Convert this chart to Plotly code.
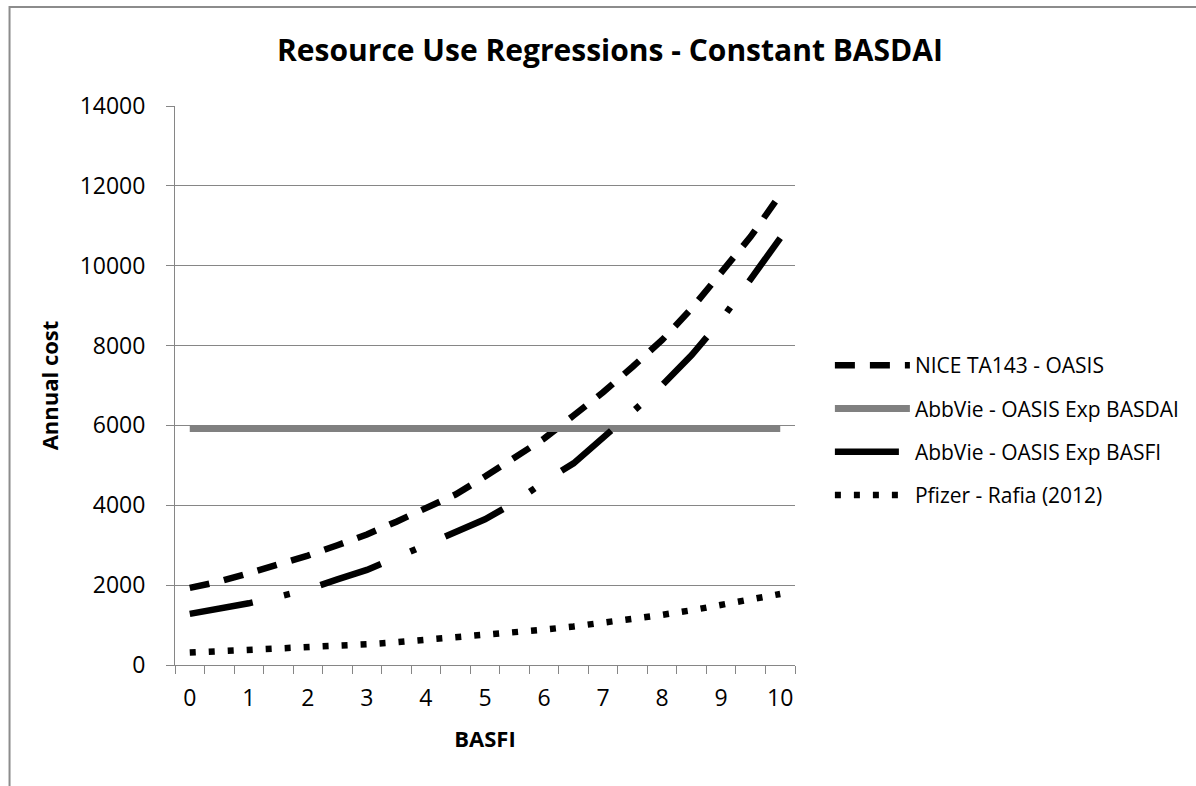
import plotly.graph_objects as go

# ---- data ----
basfi = [0, 0.5, 1, 1.5, 2, 2.5, 3, 3.5, 4, 4.5, 5, 5.5, 6, 6.5, 7, 7.5, 8, 8.5, 9, 9.5, 10]
tick_labels = ["0", "1", "2", "3", "4", "5", "6", "7", "8", "9", "10"]
tick_positions = [0, 1, 2, 3, 4, 5, 6, 7, 8, 9, 10]

nice_ta143 = [1930, 2090, 2300, 2510, 2740, 3000, 3270, 3590, 3930, 4270, 4720,
              5190, 5670, 6250, 6830, 7470, 8140, 8930, 9800, 10730, 11780]
abbvie_basdai = [5920, 5920, 5920, 5920, 5920, 5920, 5920, 5920, 5920, 5920, 5920,
                 5920, 5920, 5920, 5920, 5920, 5920, 5920, 5920, 5920, 5920]
abbvie_basfi = [1280, 1400, 1545, 1710, 1890, 2145, 2380, 2690, 3000, 3300, 3650,
                4070, 4590, 5050, 5680, 6340, 7010, 7760, 8640, 9640, 10690]
pfizer_rafia = [310, 340, 370, 400, 440, 480, 520, 570, 625, 680, 745,
                810, 885, 965, 1055, 1150, 1255, 1370, 1495, 1630, 1780]

series_names = ["NICE TA143 - OASIS", "AbbVie - OASIS Exp BASDAI",
                "AbbVie - OASIS Exp BASFI", "Pfizer - Rafia (2012)"]

FONT = "Open Sans"
GRID = "#868686"

fig = go.Figure()
fig.add_trace(go.Scatter(x=basfi, y=nice_ta143, mode="lines", name=series_names[0],
                         legendgroup="a",
                         line=dict(color="black", width=6.5, dash="20px,15px")))
fig.add_trace(go.Scatter(x=basfi, y=abbvie_basdai, mode="lines", name=series_names[1],
                         legendgroup="b",
                         line=dict(color="#808080", width=7)))
fig.add_trace(go.Scatter(x=basfi, y=abbvie_basfi, mode="lines", name=series_names[2],
                         legendgroup="c",
                         line=dict(color="black", width=6.5, dash="64px,32px,6px,32px")))
fig.add_trace(go.Scatter(x=basfi, y=pfizer_rafia, mode="lines", name=series_names[3],
                         legendgroup="d",
                         line=dict(color="black", width=6.5, dash="6px,13px")))

L, R, T, B = 175, 797, 106, 665
W, H = 1196, 786
pw, ph = R - L, B - T

def px_x(x):
    return (x - L) / pw

def px_y(y):
    return (B - y) / ph

fig.update_layout(
    width=W, height=H,
    margin=dict(l=L, r=W - R, t=T, b=H - B, pad=0),
    paper_bgcolor="white", plot_bgcolor="white",
    font=dict(family=FONT, color="black"),
    title=dict(text="<b>Resource Use Regressions - Constant BASDAI</b>",
               font=dict(family=FONT, size=30, color="black"),
               x=610 / W, xref="container", xanchor="center",
               y=1 - 50 / H, yref="container", yanchor="middle"),
    showlegend=True,
    legend=dict(x=px_x(832), xanchor="left", y=px_y(345), yanchor="top",
                font=dict(family=FONT, size=21, color="black"),
                itemwidth=75, tracegroupgap=13, bgcolor="rgba(0,0,0,0)",
                traceorder="grouped"),
    xaxis=dict(range=[-0.25, 10.25], tickmode="array", tickvals=tick_positions,
               ticktext=tick_labels, ticks="outside", ticklen=12,
               tickcolor="rgba(0,0,0,0)", showgrid=False, zeroline=False,
               showline=True, linecolor=GRID, linewidth=1,
               tickfont=dict(family=FONT, size=23, color="black"),
               minor=dict(tickmode="array",
                          tickvals=[-0.25 + 0.5 * i for i in range(22)],
                          ticks="outside", ticklen=8, tickcolor=GRID, tickwidth=1,
                          showgrid=False),
               title=dict(text="<b>BASFI</b>", font=dict(family=FONT, size=22, color="black"),
                          standoff=20)),
    yaxis=dict(range=[0, 14000], tickmode="linear", tick0=0, dtick=2000,
               tickformat="d",
               ticks="outside", ticklen=8, tickcolor=GRID, tickwidth=1,
               showgrid=True, gridcolor=GRID, gridwidth=1, zeroline=False,
               showline=True, linecolor=GRID, linewidth=1,
               tickfont=dict(family=FONT, size=23, color="black"),
               ticklabelstandoff=16,
               title=dict(text="<b>Annual cost</b>", font=dict(family=FONT, size=22, color="black"),
                          standoff=14)),
    shapes=[dict(type="rect", xref="paper", yref="paper",
                 x0=px_x(9), x1=px_x(1300), y0=px_y(900), y1=px_y(7),
                 line=dict(color="#8c8c8c", width=2), fillcolor="rgba(0,0,0,0)",
                 layer="below")],
)

fig.write_html("out.html")
